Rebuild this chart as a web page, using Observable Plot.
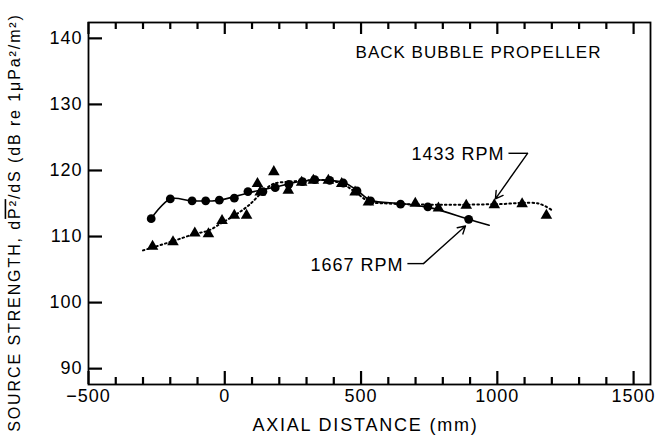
<!DOCTYPE html>
<html><head><meta charset="utf-8">
<script src="https://cdn.jsdelivr.net/npm/d3@7"></script>
<script src="https://cdn.jsdelivr.net/npm/@observablehq/plot@0.6"></script>
<style>
body{margin:0;background:#fff}
#chart svg{font-family:"Liberation Sans",Arial,sans-serif;letter-spacing:1px}
</style>
</head><body><div id="chart"></div>
<script>
// 1667 RPM measured points (circles)
const circleX = [-270, -200, -120, -70, -20, 35, 85, 140, 185, 235, 285, 330, 385, 435, 485, 535, 645, 745, 895];
const circleY = [112.7, 115.7, 115.4, 115.4, 115.5, 115.8, 116.8, 116.8, 117.4, 117.9, 118.3, 118.6, 118.5, 118.1, 116.9, 115.4, 114.9, 114.5, 112.6];
// 1433 RPM measured points (triangles)
const triX = [-265, -190, -110, -60, -10, 35, 80, 120, 130, 180, 233, 282, 325, 380, 429, 478, 527, 699, 784, 886, 989, 1091, 1180];
const triY = [108.5, 109.2, 110.5, 110.4, 112.4, 113.2, 113.2, 118.0, 116.7, 119.8, 117.0, 118.2, 118.5, 118.5, 118.0, 116.7, 115.2, 115.0, 114.3, 114.7, 114.8, 114.95, 113.2];
// fitted curves
const fit1667X = [-270, -200, -120, -20, 85, 185, 290, 385, 440, 485, 535, 650, 760, 895, 970];
const fit1667Y = [112.7, 115.7, 115.4, 115.5, 116.6, 117.5, 118.4, 118.5, 118.1, 117.0, 115.5, 115.0, 114.3, 112.6, 111.7];
const fit1433X = [-300, -190, -110, -60, -10, 40, 90, 140, 180, 240, 300, 380, 430, 480, 530, 600, 800, 1000, 1150, 1200];
const fit1433Y = [107.9, 109.3, 110.4, 110.9, 112.1, 113.3, 114.8, 116.8, 118.0, 118.3, 118.5, 118.5, 118.0, 116.7, 115.3, 115.0, 114.8, 114.9, 115.0, 114.0];
// ticks
const xMajorTicks = [-500, 0, 500, 1000, 1500];
const xMinorTicks = [-400, -300, -200, -100, 100, 200, 300, 400, 600, 700, 800, 900, 1100, 1200, 1300, 1400];
const yTicks = [90, 100, 110, 120, 130, 140];
// texts
const titleText = ["BACK BUBBLE PROPELLER"];
const xLabel = ["AXIAL DISTANCE (mm)"];
const yLabel = ["SOURCE STRENGTH, dP²/dS (dB re 1μPa²/m²)"];
const seriesLabels = ["1433 RPM", "1667 RPM"];
// annotation anchors (data units)
const labelX = [856, 485];
const labelY = [122.4, 105.6];
const leaderX1 = [1041, 670];
const leaderX2 = [1111, 729];
const leaderY = [122.6, 105.9];
const tipX = [993, 883];
const tipY = [115.7, 111.6];

const circles = circleX.map((x, i) => ({x, y: circleY[i]}));
const tris = triX.map((x, i) => ({x, y: triY[i]}));
const fit1667 = fit1667X.map((x, i) => ({x, y: fit1667Y[i]}));
const fit1433 = fit1433X.map((x, i) => ({x, y: fit1433Y[i]}));
const ann = seriesLabels.map((t, i) => ({t, lx: labelX[i], ly: labelY[i], x1: leaderX1[i], x2: leaderX2[i], ly2: leaderY[i], tx: tipX[i], ty: tipY[i]}));

const W = 661, H = 437, mL = 88, mR = 11, mT = 22, mB = 53;
const innerW = W - mL - mR, innerH = H - mT - mB;
const xDom = [-500, 1562], yDom = [87.6, 142.4];
const pxX = innerW / (xDom[1] - xDom[0]), pxY = innerH / (yDom[1] - yDom[0]);
const fmt = d => d < 0 ? "\u2212" + (-d) : String(d);
const tk = {stroke: "#000", strokeWidth: 2.2};
const svg = Plot.plot({
  width: W, height: H,
  marginLeft: mL, marginRight: mR, marginTop: mT, marginBottom: mB,
  x: {domain: xDom},
  y: {domain: yDom},
  marks: [
    Plot.frame({stroke: "#000", strokeWidth: 1.8}),
    // inward ticks (lengths in pixels converted to data units)
    Plot.ruleX(xMajorTicks, {x: d => d, y1: yDom[0], y2: yDom[0] + 13 / pxY, ...tk}),
    Plot.ruleX(xMinorTicks, {x: d => d, y1: yDom[0], y2: yDom[0] + 7 / pxY, ...tk}),
    Plot.ruleX(xMajorTicks, {x: d => d, y1: yDom[1], y2: yDom[1] - 12 / pxY, ...tk}),
    Plot.ruleX(xMinorTicks, {x: d => d, y1: yDom[1], y2: yDom[1] - 7 / pxY, ...tk}),
    Plot.ruleY(yTicks, {y: d => d, x1: xDom[0], x2: xDom[0] + 14 / pxX, ...tk}),
    // tick labels
    Plot.axisX(xMajorTicks, {anchor: "bottom", tickSize: 0, tickPadding: 5, label: null, tickFormat: fmt, fontSize: 18, fill: "#000"}),
    Plot.axisY(yTicks, {anchor: "left", tickSize: 0, tickPadding: 6, label: null, fontSize: 18, fill: "#000"}),
    // curves and points
    Plot.line(fit1433, {x: "x", y: "y", stroke: "#000", strokeWidth: 2, strokeDasharray: "1.6,3", curve: "catmull-rom"}),
    Plot.line(fit1667, {x: "x", y: "y", stroke: "#000", strokeWidth: 1.6, curve: "catmull-rom"}),
    Plot.dot(tris, {x: "x", y: "y", symbol: "triangle", r: 4.3, fill: "#000", stroke: null}),
    Plot.dot(circles, {x: "x", y: "y", symbol: "circle", r: 4.4, fill: "#000", stroke: null}),
    // annotations
    Plot.text(ann, {x: "lx", y: "ly", text: "t", fontSize: 18, fill: "#000"}),
    Plot.link(ann, {x1: "x1", x2: "x2", y1: "ly2", y2: "ly2", stroke: "#000", strokeWidth: 1.4}),
    Plot.arrow(ann, {x1: "x2", y1: "ly2", x2: "tx", y2: "ty", stroke: "#000", strokeWidth: 1.4, headLength: 9, bend: false}),
    Plot.text(titleText, {x: [931], y: [137.9], text: d => d, fontSize: 17, fill: "#000"}),
    Plot.text(xLabel, {frameAnchor: "bottom", text: d => d, dx: -4, dy: 41, lineAnchor: "middle", textAnchor: "middle", fontSize: 18, fill: "#000"}),
    Plot.text(yLabel, {frameAnchor: "left", text: d => d, rotate: -90, dx: -74, dy: 19, lineAnchor: "middle", textAnchor: "middle", fontSize: 16, fill: "#000"})
  ]
});
document.getElementById("chart").appendChild(svg);

// overline on P² in the y label
d3.select(svg).selectAll("text").filter(function() { return this.textContent === yLabel[0]; }).each(function() {
  const t = d3.select(this);
  t.text(null).style("letter-spacing", "1.9px");
  t.append("tspan").text("SOURCE STRENGTH, d");
  t.append("tspan").attr("text-decoration", "overline").style("text-decoration", "overline").text("P²");
  t.append("tspan").text("/dS (dB re 1μPa²/m²)");
});
d3.select(svg).selectAll("text").filter(function() { return this.textContent === xLabel[0]; }).style("letter-spacing", "1.8px");
</script>
</body></html>
